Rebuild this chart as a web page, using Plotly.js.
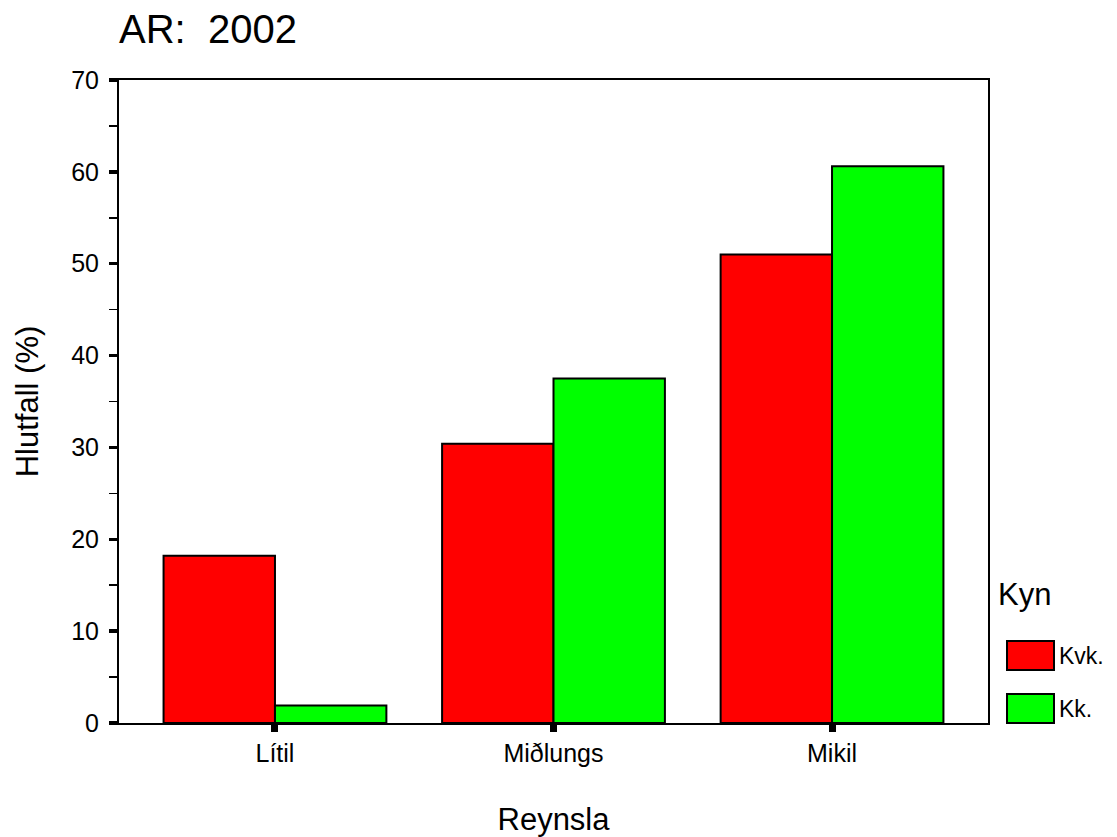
<!DOCTYPE html>
<html>
<head>
<meta charset="utf-8">
<script src="https://cdn.plot.ly/plotly-3.0.1.min.js"></script>
<style>
  html, body { margin: 0; padding: 0; background: #fff; }
  #chart { width: 1117px; height: 837px; }
</style>
</head>
<body>
<div id="chart"></div>
<script>
// ---- data ----
const categories = ['Lítil', 'Miðlungs', 'Mikil'];
const seriesNames = ['Kvk.', 'Kk.'];
const kvkValues = [18.2, 30.4, 51.0];
const kkValues = [1.9, 37.5, 60.6];
const seriesColors = ['#FF0000', '#00FF00'];
const chartTitle = 'AR:\u00a0 2002';
const xTitle = 'Reynsla';
const yTitle = 'Hlutfall (%)';
const legendTitle = 'Kyn';
const yTickVals = [0, 10, 20, 30, 40, 50, 60, 70];

const FONT = 'Liberation Sans, Arial, Helvetica, sans-serif';
const W = 1117, H = 837;
const M = {l: 119, r: 129, t: 80, b: 114};
const pw = W - M.l - M.r, ph = H - M.t - M.b;

const traces = [kvkValues, kkValues].map((vals, i) => ({
  type: 'bar',
  x: categories,
  y: vals,
  name: seriesNames[i],
  marker: {color: seriesColors[i], line: {color: '#000', width: 2}},
  showlegend: false,
  hoverinfo: 'x+y+name'
}));

// custom legend (paper coords computed from pixel layout)
const px = x => (x - M.l) / pw;
const py = y => (H - M.b - y) / ph;
const legendBoxes = [[641, 670], [694, 723]];
const shapes = legendBoxes.map((b, i) => ({
  type: 'rect', xref: 'paper', yref: 'paper',
  x0: px(1007), x1: px(1054), y0: py(b[1]), y1: py(b[0]),
  fillcolor: seriesColors[i], line: {color: '#000', width: 2}
}));
const annotations = [
  {text: legendTitle, xref: 'paper', yref: 'paper', x: px(996), y: py(594),
   xanchor: 'left', yanchor: 'middle', showarrow: false,
   font: {family: FONT, size: 31, color: '#000'}},
].concat(seriesNames.map((n, i) => ({
  text: n, xref: 'paper', yref: 'paper', x: px(1057), y: py((legendBoxes[i][0] + legendBoxes[i][1]) / 2),
  xanchor: 'left', yanchor: 'middle', showarrow: false,
  font: {family: FONT, size: 23, color: '#000'}
})));

const layout = {
  width: W, height: H,
  margin: M,
  paper_bgcolor: '#fff', plot_bgcolor: '#fff',
  font: {family: FONT, color: '#000'},
  title: {
    text: chartTitle, font: {family: FONT, size: 40, color: '#000'},
    xref: 'paper', x: 0, xanchor: 'left',
    yref: 'container', y: 1 - 29 / H, yanchor: 'middle'
  },
  barmode: 'group', bargap: 0.2, bargroupgap: 0,
  xaxis: {
    type: 'category', range: [-0.56, 2.56],
    showline: true, mirror: true, linecolor: '#000', linewidth: 2,
    ticks: 'outside', ticklen: 7, tickwidth: 7, tickcolor: '#000',
    showgrid: false, zeroline: false,
    tickfont: {family: FONT, size: 25, color: '#000'},
    title: {text: xTitle, font: {family: FONT, size: 31, color: '#000'}, standoff: 44},
    fixedrange: true
  },
  yaxis: {
    range: [0, 70], tickvals: yTickVals,
    showline: true, mirror: true, linecolor: '#000', linewidth: 2,
    ticks: 'outside', ticklen: 8, tickwidth: 3.5, tickcolor: '#000',
    minor: {ticks: 'outside', ticklen: 8, tickwidth: 1.5, tickcolor: '#000', dtick: 5, tick0: 0, showgrid: false},
    ticklabelstandoff: 5,
    showgrid: false, zeroline: false,
    tickfont: {family: FONT, size: 25, color: '#000'},
    title: {text: yTitle, font: {family: FONT, size: 31, color: '#000'}, standoff: 23},
    fixedrange: true
  },
  shapes: shapes,
  annotations: annotations,
  showlegend: false
};

Plotly.newPlot('chart', traces, layout, {displayModeBar: false, staticPlot: true});
</script>
</body>
</html>
